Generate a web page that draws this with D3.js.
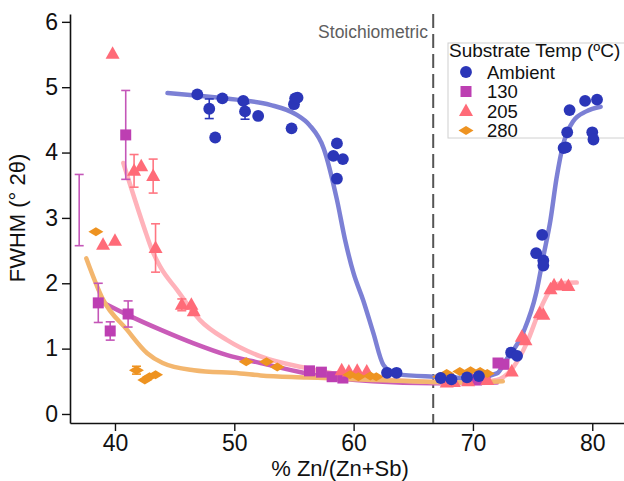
<!DOCTYPE html>
<html>
<head>
<meta charset="utf-8">
<script src="https://cdn.jsdelivr.net/npm/d3@7.9.0/dist/d3.min.js"></script>
<style>
  body { margin: 0; background: #fff; }
  svg { font-family: "Liberation Sans", Arial, Helvetica, sans-serif; display: block; }
</style>
</head>
<body>
<svg id="chart" width="624" height="481"></svg>
<script>
// points: [x %Zn, FWHM, error bar (0 = none)]
const ambientPts = [
  [46.9, 4.89, 0], [47.9, 4.67, 0.15], [48.4, 4.23, 0], [49.0, 4.83, 0],
  [50.75, 4.79, 0], [50.9, 4.63, 0.12], [52.0, 4.56, 0], [54.8, 4.37, 0],
  [55.0, 4.74, 0], [55.1, 4.83, 0], [55.3, 4.84, 0], [58.3, 3.95, 0],
  [58.6, 4.14, 0], [59.1, 3.90, 0], [58.6, 3.60, 0],
  [62.8, 0.63, 0], [63.6, 0.63, 0], [67.3, 0.55, 0], [68.2, 0.53, 0],
  [69.5, 0.56, 0], [70.5, 0.58, 0],
  [73.2, 0.94, 0], [73.7, 0.89, 0], [75.3, 2.46, 0], [75.8, 2.74, 0],
  [75.9, 2.35, 0], [75.9, 2.27, 0], [77.6, 4.07, 0], [77.8, 4.08, 0],
  [77.9, 4.31, 0], [78.1, 4.65, 0], [79.4, 4.79, 0], [80.0, 4.31, 0],
  [80.1, 4.20, 0], [80.4, 4.81, 0]
];
const t130Pts = [
  [38.6, 1.70, 0.30], [39.6, 1.27, 0.14], [41.1, 1.53, 0.20], [40.9, 4.27, 0.68],
  [56.3, 0.66, 0], [57.3, 0.64, 0], [58.2, 0.57, 0], [59.1, 0.55, 0],
  [69.6, 0.53, 0], [70.3, 0.52, 0], [71.0, 0.55, 0], [72.1, 0.78, 0], [72.6, 0.76, 0]
];
// lone 130 error bar near the left edge (its marker is not visible)
const t130ErrOnly = [[37.0, 3.12, 0.545]];
const t205Pts = [
  [39.8, 5.51, 0], [39.0, 2.59, 0], [40.0, 2.65, 0], [41.6, 3.72, 0.25],
  [42.2, 3.79, 0], [43.2, 3.64, 0.26], [43.4, 2.54, 0.37], [45.6, 1.67, 0.09],
  [46.4, 1.67, 0], [46.6, 1.57, 0],
  [59.0, 0.67, 0], [59.6, 0.65, 0], [60.3, 0.66, 0], [61.1, 0.65, 0],
  [67.8, 0.48, 0], [68.4, 0.49, 0], [69.6, 0.50, 0], [71.2, 0.52, 0],
  [73.25, 0.65, 0], [74.1, 1.18, 0], [74.4, 1.13, 0], [75.6, 1.54, 0],
  [75.9, 1.52, 0], [76.5, 1.91, 0], [76.8, 1.97, 0], [77.4, 1.97, 0], [78.0, 1.96, 0]
];
const t280Pts = [
  [38.4, 2.79, 0], [41.8, 0.67, 0.06], [42.5, 0.52, 0], [42.9, 0.57, 0], [43.4, 0.60, 0],
  [51.0, 0.80, 0], [52.7, 0.80, 0], [53.6, 0.72, 0],
  [59.7, 0.60, 0], [60.4, 0.57, 0], [61.4, 0.58, 0], [61.9, 0.57, 0],
  [67.2, 0.57, 0], [67.8, 0.62, 0], [68.9, 0.65, 0], [69.8, 0.66, 0],
  [70.6, 0.65, 0], [71.2, 0.62, 0]
];

// fitted guide curves
const ambientFit = [
  [44.4, 4.91], [47, 4.87], [50.2, 4.81], [53.0, 4.73], [55.2, 4.58], [56.3, 4.42],
  [57.5, 4.06], [58.6, 3.28], [59.3, 2.65], [60.0, 2.15], [60.8, 1.74], [61.65, 1.24],
  [62.5, 0.75], [63.6, 0.61], [66.7, 0.57], [70, 0.55], [72.0, 0.62], [72.8, 0.83],
  [74.2, 1.24], [75.3, 1.85], [75.9, 2.41], [76.5, 2.97], [77.0, 3.60], [77.6, 4.15],
  [78.4, 4.48], [79.5, 4.63], [80.7, 4.70]
];
const t130Fit = [
  [38.6, 1.74], [41.0, 1.52], [43.8, 1.29], [46.6, 1.08], [49.4, 0.90], [52.2, 0.78],
  [56.1, 0.62], [61.6, 0.50], [66.7, 0.47], [72.0, 0.48]
];
const t205Fit = [
  [40.7, 3.84], [42.5, 2.82], [43.1, 2.51], [43.8, 2.25], [45.2, 1.90], [47.1, 1.44],
  [49.4, 1.13], [52.2, 0.88], [56.1, 0.70], [58.9, 0.60], [63.1, 0.52], [66.7, 0.49],
  [70, 0.48], [72.0, 0.52], [73.4, 0.72], [74.5, 1.08], [75.6, 1.59], [76.5, 1.90],
  [77.3, 2.0], [78.7, 2.01]
];
const t280Fit = [
  [37.6, 2.38], [39.0, 1.75], [41.0, 1.29], [42.7, 0.93], [44.0, 0.78], [46.6, 0.67],
  [50.5, 0.62], [52.2, 0.59], [56.1, 0.56], [61.6, 0.52], [66.7, 0.49], [70, 0.48], [72.5, 0.50]
];

const xTicks = [40, 50, 60, 70, 80];
const yTicks = [0, 1, 2, 3, 4, 5, 6];
const stoich = 66.67;
const legendLabels = ["Ambient", "130", "205", "280"];

const svg = d3.select("#chart");
const x = d3.scaleLinear().domain([36.23, 82.66]).range([70, 624]);
const y = d3.scaleLinear().domain([-0.138, 6.12]).range([423, 14]);

// axes
const xAxis = svg.append("g").attr("transform", "translate(0,423)")
  .call(d3.axisBottom(x).tickValues(xTicks).tickFormat(d3.format("d"))
    .tickSize(8).tickPadding(4).tickSizeOuter(0));
const yAxis = svg.append("g").attr("transform", "translate(70,0)")
  .call(d3.axisLeft(y).tickValues(yTicks).tickFormat(d3.format("d"))
    .tickSize(8).tickPadding(4).tickSizeOuter(0));
[xAxis, yAxis].forEach(g => {
  g.select(".domain").attr("stroke", "#111").attr("stroke-width", 1.6);
  g.selectAll(".tick line").attr("stroke", "#111").attr("stroke-width", 1.4);
  g.selectAll(".tick text").attr("fill", "#111").style("font-size", "23px")
    .style("font-family", "'Liberation Sans', Arial, sans-serif");
});

svg.append("text").attr("x", 340).attr("y", 476).attr("text-anchor", "middle")
  .style("font-size", "22px").attr("fill", "#111").text("% Zn/(Zn+Sb)");
svg.append("text").attr("transform", "translate(25,218) rotate(-90)")
  .attr("text-anchor", "middle").style("font-size", "22px").attr("fill", "#111")
  .text("FWHM (° 2θ)");

// legend box (behind the data)
const lg = svg.append("g");
lg.append("rect").attr("x", 448).attr("y", 43).attr("width", 190).attr("height", 95)
  .attr("fill", "none").attr("stroke", "#d0d0d0").attr("stroke-width", 1);

// stoichiometric line
svg.append("line").attr("x1", x(stoich)).attr("x2", x(stoich)).attr("y1", 14).attr("y2", 423)
  .attr("stroke", "#555").attr("stroke-width", 2).attr("stroke-dasharray", "14,6");
svg.append("text").attr("x", 428).attr("y", 38).attr("text-anchor", "end")
  .style("font-size", "17.5px").attr("fill", "#5e5e5e").text("Stoichiometric");

const line = d3.line().x(d => x(d[0])).y(d => y(d[1])).curve(d3.curveMonotoneX);

const series = [
  { pts: t130Pts, fit: t130Fit, color: "#bd3fb2", fitColor: "#c95bb8", err: "#c456b8", shape: "square" },
  { pts: t205Pts, fit: t205Fit, color: "#ff6b78", fitColor: "#ffb2ba", err: "#ff7682", shape: "triangle" },
  { pts: t280Pts, fit: t280Fit, color: "#ee9321", fitColor: "#f3b66e", err: "#ee9321", shape: "diamond" },
  { pts: ambientPts, fit: ambientFit, color: "#2b36b8", fitColor: "#7c80d5", err: "#2b36b8", shape: "circle" }
];

const shapePath = {
  circle: d3.symbol(d3.symbolCircle, 110)(),
  square: "M-5.5,-5.5H5.5V5.5H-5.5Z",
  triangle: "M0,-7.5L7,5L-7,5Z",
  diamond: "M-7.5,0L0,-4.5L7.5,0L0,4.5Z"
};

// fit curves
series.forEach(s => {
  svg.append("path").datum(s.fit).attr("d", line).attr("fill", "none")
    .attr("stroke", s.fitColor).attr("stroke-width", 4.5).attr("stroke-linecap", "round");
});

function errBars(g, data, color) {
  const eb = g.selectAll(null).data(data.filter(d => d[2] > 0)).enter().append("g")
    .attr("stroke", color).attr("stroke-width", 1.6);
  eb.append("line").attr("x1", d => x(d[0])).attr("x2", d => x(d[0]))
    .attr("y1", d => y(d[1] - d[2])).attr("y2", d => y(d[1] + d[2]));
  [-1, 1].forEach(sgn => {
    eb.append("line").attr("x1", d => x(d[0]) - 4.5).attr("x2", d => x(d[0]) + 4.5)
      .attr("y1", d => y(d[1] + sgn * d[2])).attr("y2", d => y(d[1] + sgn * d[2]));
  });
}

errBars(svg, t130ErrOnly, "#c456b8");
series.forEach(s => {
  const g = svg.append("g");
  errBars(g, s.pts, s.err);
  g.selectAll("path").data(s.pts).enter().append("path")
    .attr("d", shapePath[s.shape]).attr("fill", s.color)
    .attr("transform", d => `translate(${x(d[0])},${y(d[1])})`);
});

// legend text and markers
lg.append("text").attr("x", 449).attr("y", 57).style("font-size", "19px").attr("fill", "#111")
  .text("Substrate Temp (ºC)");
const order = [series[3], series[0], series[1], series[2]];
legendLabels.forEach((lab, i) => {
  const yy = 72 + i * 19.5;
  lg.append("path").attr("d", shapePath[order[i].shape]).attr("fill", order[i].color)
    .attr("transform", `translate(466,${yy})`);
  lg.append("text").attr("x", 487).attr("y", yy + 6.5).style("font-size", "18.5px")
    .attr("fill", "#111").text(lab);
});
</script>
</body>
</html>
